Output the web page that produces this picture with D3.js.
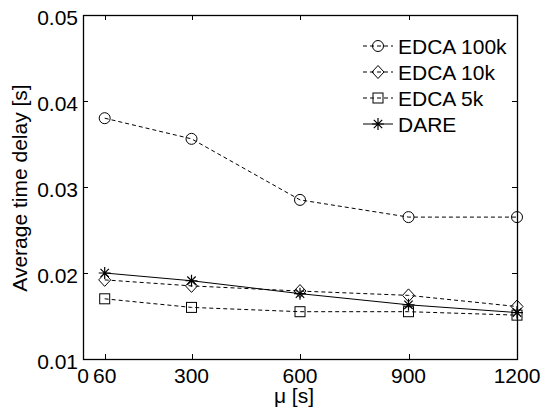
<!DOCTYPE html>
<html>
<head>
<meta charset="utf-8">
<script src="https://cdn.jsdelivr.net/npm/d3@7"></script>
<style>
  body { margin: 0; background: #fff; }
  svg { font-family: "Liberation Sans", Arial, sans-serif; }
</style>
</head>
<body>
<script>
// x values (mu in seconds)
const mu = [60, 300, 600, 900, 1200];

// series values
const edca100k = [0.0380, 0.0356, 0.0285, 0.0265, 0.0265];
const edca10k = [0.0192, 0.0185, 0.0179, 0.0174, 0.0161];
const edca5k = [0.0170, 0.0160, 0.0155, 0.0155, 0.0151];
const dare = [0.0200, 0.0191, 0.0176, 0.0163, 0.0154];

const seriesNames = ['EDCA 100k', 'EDCA 10k', 'EDCA 5k', 'DARE'];
const seriesValues = [edca100k, edca10k, edca5k, dare];
const markers = ['circle', 'diamond', 'square', 'star'];

const xTicks = [0, 60, 300, 600, 900, 1200];
const yTicks = [0.01, 0.02, 0.03, 0.04, 0.05];

const width = 544;
const height = 410;
const margin = { left: 83, right: 27, top: 15, bottom: 51 };
const fontSize = 21;

const svg = d3.select('body').append('svg')
  .attr('width', width)
  .attr('height', height);

const x = d3.scaleLinear()
  .domain([0, 1200])
  .range([margin.left, width - margin.right]);

const y = d3.scaleLinear()
  .domain([0.01, 0.05])
  .range([height - margin.bottom, margin.top]);

const x0 = x.range()[0], x1 = x.range()[1];
const y0 = y.range()[0], y1 = y.range()[1];

// axes box with inward ticks on all sides
const tickLen = 5;
const ax = svg.append('g').attr('stroke', '#000').attr('stroke-width', 1).attr('fill', 'none');
ax.append('rect')
  .attr('x', x0 + 0.5).attr('y', y1 + 0.5)
  .attr('width', x1 - x0).attr('height', y0 - y1)
  .attr('stroke-width', 1.3);

xTicks.forEach((t) => {
  const px = Math.round(x(t)) + 0.5;
  ax.append('line').attr('x1', px).attr('x2', px).attr('y1', y0).attr('y2', y0 - tickLen);
  ax.append('line').attr('x1', px).attr('x2', px).attr('y1', y1).attr('y2', y1 + tickLen);
});
yTicks.forEach((t) => {
  const py = Math.round(y(t)) + 0.5;
  ax.append('line').attr('x1', x0).attr('x2', x0 + tickLen).attr('y1', py).attr('y2', py);
  ax.append('line').attr('x1', x1).attr('x2', x1 - tickLen).attr('y1', py).attr('y2', py);
});

// tick labels
svg.append('g').selectAll('text')
  .data(xTicks)
  .join('text')
  .attr('x', (d) => x(d))
  .attr('y', y0 + 24)
  .attr('text-anchor', 'middle')
  .attr('font-size', fontSize)
  .text((d) => d);

svg.append('g').selectAll('text')
  .data(yTicks)
  .join('text')
  .attr('x', x0 - 5)
  .attr('y', (d) => y(d) + 10)
  .attr('text-anchor', 'end')
  .attr('font-size', fontSize)
  .text((d) => d.toFixed(2));

// axis titles
svg.append('text')
  .attr('x', 294)
  .attr('y', 403)
  .attr('text-anchor', 'middle')
  .attr('font-size', fontSize)
  .text('\u03bc [s]');

svg.append('text')
  .attr('transform', 'translate(27,188) rotate(-90)')
  .attr('text-anchor', 'middle')
  .attr('font-size', fontSize)
  .text('Average time delay [s]');

// marker shapes
const drawMarker = (g, kind, cx, cy) => {
  const m = g.append('g').attr('transform', `translate(${cx},${cy})`)
    .attr('fill', 'none').attr('stroke', '#000').attr('stroke-width', 1);
  if (kind === 'circle') {
    m.append('circle').attr('r', 5.5);
  } else if (kind === 'diamond') {
    m.append('path').attr('d', 'M0,-6.5L6,0L0,6.5L-6,0Z');
  } else if (kind === 'square') {
    m.append('rect').attr('x', -5).attr('y', -5).attr('width', 10).attr('height', 10);
  } else {
    const r = 6;
    m.append('path').attr('stroke-width', 1.2)
      .attr('d', `M${-r},0H${r}M0,${-r}V${r}M${-r * 0.7},${-r * 0.7}L${r * 0.7},${r * 0.7}M${-r * 0.7},${r * 0.7}L${r * 0.7},${-r * 0.7}`);
  }
};

const line = d3.line()
  .x((d) => x(d[0]))
  .y((d) => y(d[1]));

seriesValues.forEach((vals, i) => {
  const pts = mu.map((m, j) => [m, vals[j]]);
  const dashed = markers[i] !== 'star';
  svg.append('path')
    .datum(pts)
    .attr('d', line)
    .attr('fill', 'none')
    .attr('stroke', '#000')
    .attr('stroke-width', 1)
    .attr('stroke-dasharray', dashed ? '4,3' : null);
  const g = svg.append('g');
  pts.forEach((p) => drawMarker(g, markers[i], x(p[0]), y(p[1])));
});

// legend
const legendRows = [46, 72, 98, 124];
const lg = svg.append('g');
seriesNames.forEach((name, i) => {
  const ly = legendRows[i];
  lg.append('line')
    .attr('x1', 363).attr('x2', 393)
    .attr('y1', ly).attr('y2', ly)
    .attr('stroke', '#000')
    .attr('stroke-width', 1)
    .attr('stroke-dasharray', markers[i] !== 'star' ? '4,3' : null);
  drawMarker(lg, markers[i], 378, ly);
  lg.append('text')
    .attr('x', 398)
    .attr('y', ly + 8)
    .attr('font-size', fontSize)
    .text(name);
});
</script>
</body>
</html>
